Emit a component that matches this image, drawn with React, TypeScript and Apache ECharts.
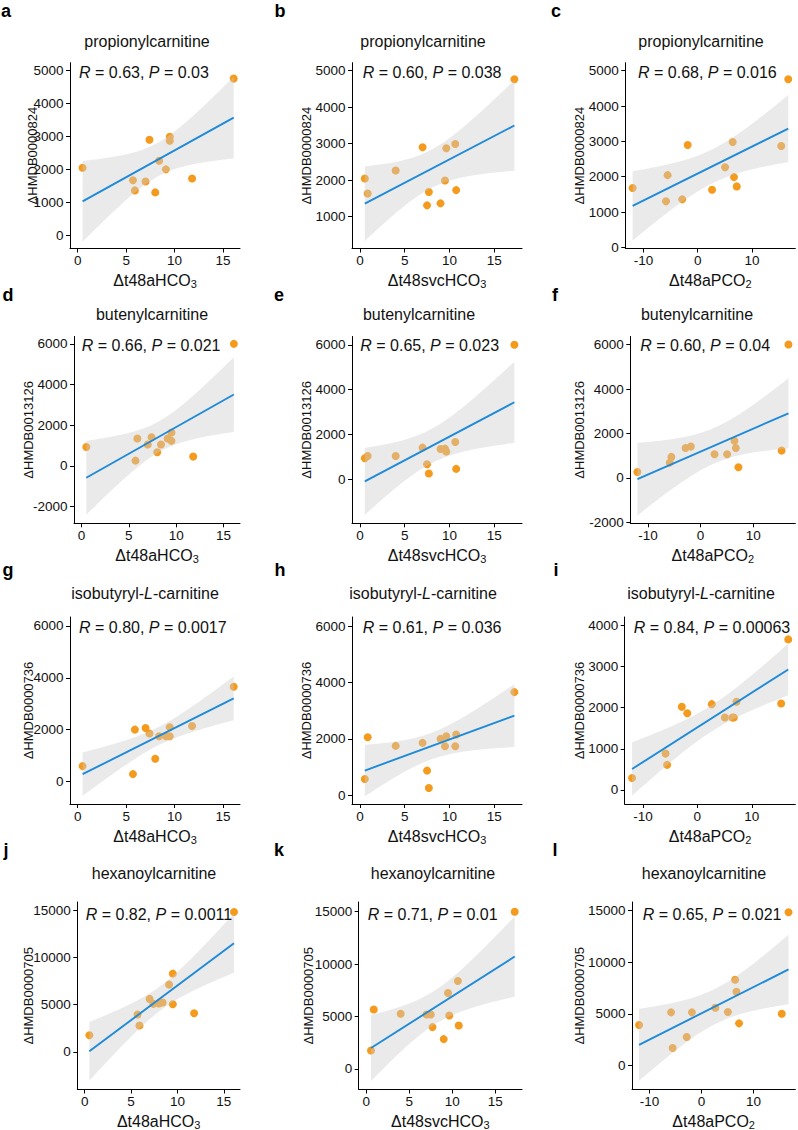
import React, { useEffect, useRef } from 'react';
import * as echarts from 'echarts';

// ---------------- data ----------------
const xAHCO3 = [0.5, 5.7, 5.9, 7.0, 7.4, 8.0, 8.4, 9.1, 9.5, 9.5, 11.8, 16.1];
const xSVCHCO3 = [0.55, 0.87, 4.0, 7.0, 7.5, 7.7, 9.0, 9.5, 9.65, 10.65, 10.75, 17.25];
const xAPCO2 = [-12.0, -5.85, -5.55, -2.85, -1.85, 2.65, 5.05, 6.45, 6.7, 7.2, 15.4, 16.7];

// propionylcarnitine (HMDB0000824)
const yPropA = [2050, 1670, 1360, 1630, 2900, 1300, 2260, 2000, 2990, 2870, 1720, 4760];
const yPropB = [2045, 1636, 2264, 2900, 1309, 1673, 1364, 1991, 2873, 2991, 1727, 4764];
const yPropC = [1679, 1304, 2045, 1360, 2899, 1632, 2270, 2983, 1989, 1726, 2871, 4756];
// butenylcarnitine (HMDB0013126)
const yButD = [934, 262, 1344, 1049, 1410, 672, 1049, 1344, 1639, 1230, 459, 6000];
const yButE = [946, 1049, 1049, 1419, 680, 266, 1360, 1374, 1241, 1670, 473, 6000];
const yButF = [270, 690, 946, 1351, 1411, 1066, 1066, 1667, 1351, 480, 1231, 6006];
// isobutyryl-L-carnitine (HMDB0000736)
const yIsoG = [590, 282, 2000, 2064, 1846, 872, 1744, 1744, 2090, 1744, 2141, 3654];
const yIsoH = [580, 2059, 1751, 1858, 876, 260, 2000, 1740, 2095, 1740, 2154, 3657];
const yIsoI = [292, 884, 609, 2020, 1866, 2085, 1761, 1761, 1761, 2142, 2101, 3659];
// hexanoylcarnitine (HMDB0000705)
const yHexJ = [1765, 3953, 2789, 5612, 5083, 5118, 5224, 7130, 8295, 5047, 4094, 14825];
const yHexK = [1752, 5669, 5255, 5191, 5191, 3981, 2834, 7229, 5096, 8376, 4140, 15000];
const yHexL = [3926, 5150, 1706, 2768, 5150, 5600, 5182, 8304, 7145, 4087, 5021, 14837];

const panelLetters = ['a', 'b', 'c', 'd', 'e', 'f', 'g', 'h', 'i', 'j', 'k', 'l'];
const rowTitles = ['propionylcarnitine', 'butenylcarnitine', 'isobutyryl-L-carnitine', 'hexanoylcarnitine'];
const rowYNames = ['ΔHMDB0000824', 'ΔHMDB0013126', 'ΔHMDB0000736', 'ΔHMDB0000705'];
const colXNames = [['Δt48aHCO', '3'], ['Δt48svcHCO', '3'], ['Δt48aPCO', '2']];
const colX = [xAHCO3, xSVCHCO3, xAPCO2];
const panelY = [yPropA, yPropB, yPropC, yButD, yButE, yButF, yIsoG, yIsoH, yIsoI, yHexJ, yHexK, yHexL];
const corrR = ['0.63', '0.60', '0.68', '0.66', '0.65', '0.60', '0.80', '0.61', '0.84', '0.82', '0.71', '0.65'];
const corrP = ['0.03', '0.038', '0.016', '0.021', '0.023', '0.04', '0.0017', '0.036', '0.00063', '0.0011', '0.01', '0.021'];

const xTicksHCO3 = [0, 5, 10, 15];
const xTicksPCO2 = [-10, 0, 10];
const colXTicks = [xTicksHCO3, xTicksHCO3, xTicksPCO2];
const yTicksProp = [0, 1000, 2000, 3000, 4000, 5000];
const yTicksPropB = [1000, 2000, 3000, 4000, 5000];
const yTicksBut = [-2000, 0, 2000, 4000, 6000];
const yTicksButE = [0, 2000, 4000, 6000];
const yTicksIso = [0, 2000, 4000, 6000];
const yTicksIsoI = [0, 1000, 2000, 3000, 4000];
const yTicksHex = [0, 5000, 10000, 15000];
const panelYTicks = [yTicksProp, yTicksPropB, yTicksProp, yTicksBut, yTicksButE, yTicksBut, yTicksIso, yTicksIso, yTicksIsoI, yTicksHex, yTicksHex, yTicksHex];

// axis ranges
const colXRange = [[-0.8, 16.75], [-0.88, 18.1], [-13.35, 18.0]];
const panelYRange = [
  [-406, 5243], [127, 5218], [-30, 5225],
  [-2820, 6361], [-1951, 6369], [-2042, 6366],
  [-872, 6346], [-308, 6320], [-341, 4203],
  [-3988, 15883], [-1975, 15924], [-2317, 15835],
];

// ---------------- layout ----------------
const FONT = '"Liberation Sans", Arial, Helvetica, sans-serif';
const ORANGE = '#F49A1C';
const BLUE = '#1E8AD8';
const RIBBON = 'rgba(205,205,205,0.42)';
const TXT = '#111';
const rowBox = [[62.7, 248.5], [336.5, 523.3], [617, 804], [902, 1089.5]];
const colRight = [240, 522, 795.3];
const panelLeft = [70, 352, 625.3, 74, 352, 630.3, 70, 352, 624.7, 77.3, 358.7, 632];
const yNameGap = [31, 39, 39, 38.7, 39, 44, 34.7, 39, 38.4, 42, 43.4, 45.7];
const letterPos = [[6, 11], [280, 11], [556, 11], [8, 295], [279, 295], [555, 295], [8, 570], [280, 570], [556, 570], [6, 850], [279, 850], [555, 850]];
const titlePos = [[147, 41], [423, 41], [701, 41], [152, 314], [419, 314], [697, 314], [145, 593], [423, 593], [701, 593], [154, 873], [433, 873], [704, 873]];
const corrX = [79, 362.7, 638, 81.7, 360.3, 640.3, 79, 362.7, 633.7, 85.7, 367.7, 642.7];
const rowCorrY = [72, 345, 627, 914];

const T975_DF10 = 2.228139;

function linearFit(xs: number[], ys: number[]) {
  const n = xs.length;
  const mx = xs.reduce((s, v) => s + v, 0) / n;
  const my = ys.reduce((s, v) => s + v, 0) / n;
  let sxx = 0, sxy = 0;
  for (let i = 0; i < n; i++) { sxx += (xs[i] - mx) ** 2; sxy += (xs[i] - mx) * (ys[i] - my); }
  const b = sxy / sxx;
  const a = my - b * mx;
  let sse = 0;
  for (let i = 0; i < n; i++) sse += (ys[i] - a - b * xs[i]) ** 2;
  const s = Math.sqrt(sse / (n - 2));
  const lo = Math.min(...xs), hi = Math.max(...xs);
  const band: number[][] = [];
  const steps = 80;
  for (let k = 0; k <= steps; k++) {
    const x = lo + ((hi - lo) * k) / steps;
    const yh = a + b * x;
    const se = s * Math.sqrt(1 / n + (x - mx) ** 2 / sxx);
    band.push([x, yh - T975_DF10 * se, yh + T975_DF10 * se]);
  }
  const line = [[lo, a + b * lo], [hi, a + b * hi]];
  return { band, line };
}

const plain = (v: number) => String(v);

function buildOption() {
  const grid: any[] = [];
  const xAxis: any[] = [];
  const yAxis: any[] = [];
  const series: any[] = [];
  const graphic: any[] = [];

  for (let p = 0; p < 12; p++) {
    const row = Math.floor(p / 3);
    const col = p % 3;
    const left = panelLeft[p];
    const top = rowBox[row][0];
    grid.push({ left, top, width: colRight[col] - left, height: rowBox[row][1] - top, outerBoundsMode: 'none', containLabel: false });
    const xt = colXTicks[col];
    xAxis.push({
      gridIndex: p, type: 'value', min: colXRange[col][0], max: colXRange[col][1],
      axisLine: { show: true, onZero: false, lineStyle: { color: '#000', width: 1 } },
      axisTick: { show: true, inside: false, length: 4, customValues: xt, lineStyle: { color: '#000', width: 1 } },
      axisLabel: { show: true, customValues: xt, formatter: plain, color: TXT, fontSize: 13.5, fontFamily: FONT, margin: 5 },
      splitLine: { show: false },
      name: `{n|${colXNames[col][0]}}{s|${colXNames[col][1]}}`,
      nameLocation: 'middle', nameGap: 23, nameMoveOverlap: false,
      nameTextStyle: {
        color: TXT, fontFamily: FONT, fontSize: 16,
        rich: {
          n: { fontSize: 16, fontFamily: FONT, color: TXT },
          s: { fontSize: 11, fontFamily: FONT, color: TXT, padding: [7, 0, 0, 0] },
        },
      },
    });
    const yt = panelYTicks[p];
    yAxis.push({
      gridIndex: p, type: 'value', min: panelYRange[p][0], max: panelYRange[p][1],
      axisLine: { show: true, onZero: false, lineStyle: { color: '#000', width: 1 } },
      axisTick: { show: true, inside: false, length: 4, customValues: yt, lineStyle: { color: '#000', width: 1 } },
      axisLabel: { show: true, customValues: yt, formatter: plain, color: TXT, fontSize: 13.5, fontFamily: FONT, margin: 6.5 },
      splitLine: { show: false },
      name: rowYNames[row], nameLocation: 'middle', nameGap: yNameGap[p], nameMoveOverlap: false,
      nameTextStyle: { color: TXT, fontFamily: FONT, fontSize: 13 },
    });

    const xs = colX[col];
    const ys = panelY[p];
    const { band, line } = linearFit(xs, ys);
    series.push({
      type: 'scatter', xAxisIndex: p, yAxisIndex: p, silent: true, z: 2,
      data: xs.map((x, i) => [x, ys[i]]), symbolSize: 8,
      itemStyle: { color: ORANGE, opacity: 1 },
    });
    series.push({
      type: 'custom', xAxisIndex: p, yAxisIndex: p, silent: true, z: 3,
      data: band,
      renderItem: (params: any, api: any) => {
        if (params.dataIndex !== 0) return null;
        const pts: number[][] = [];
        for (const b of band) pts.push(api.coord([b[0], b[2]]));
        for (let k = band.length - 1; k >= 0; k--) pts.push(api.coord([band[k][0], band[k][1]]));
        return { type: 'polygon', shape: { points: pts }, style: { fill: RIBBON } };
      },
    });
    series.push({
      type: 'line', xAxisIndex: p, yAxisIndex: p, silent: true, z: 4,
      data: line, showSymbol: false, symbol: 'none',
      lineStyle: { color: BLUE, width: 1.9 },
    });

    // panel letter
    graphic.push({
      type: 'text', x: letterPos[p][0], y: letterPos[p][1],
      style: { text: panelLetters[p], fill: '#000', fontSize: 18, fontWeight: 'bold', fontFamily: FONT, textAlign: 'center', textVerticalAlign: 'middle', align: 'center', verticalAlign: 'middle' },
    });
    // title
    const title = rowTitles[row];
    const titleText = title.includes('-L-')
      ? `{n|${title.split('-L-')[0]}-}{i|L}{n|-${title.split('-L-')[1]}}`
      : `{n|${title}}`;
    graphic.push({
      type: 'text', x: titlePos[p][0], y: titlePos[p][1],
      style: {
        text: titleText, fill: TXT, fontSize: 16, fontFamily: FONT,
        textAlign: 'center', textVerticalAlign: 'middle', align: 'center', verticalAlign: 'middle',
        rich: {
          n: { fontSize: 16, fontFamily: FONT, fill: TXT },
          i: { fontSize: 16, fontFamily: FONT, fill: TXT, fontStyle: 'italic' },
        },
      },
    });
    // correlation label
    graphic.push({
      type: 'text', x: corrX[p], y: rowCorrY[row],
      style: {
        text: `{i|R}{n| = ${corrR[p]}, }{i|P}{n| = ${corrP[p]}}`,
        fill: TXT, fontSize: 16, fontFamily: FONT,
        textAlign: 'left', textVerticalAlign: 'middle', align: 'left', verticalAlign: 'middle',
        rich: {
          n: { fontSize: 16, fontFamily: FONT, fill: TXT },
          i: { fontSize: 16, fontFamily: FONT, fill: TXT, fontStyle: 'italic' },
        },
      },
      z: 10,
    });
  }

  return {
    animation: false,
    backgroundColor: '#ffffff',
    textStyle: { fontFamily: FONT },
    grid, xAxis, yAxis, series, graphic,
  };
}

export default function App() {
  const ref = useRef<HTMLDivElement>(null);
  useEffect(() => {
    const chart = echarts.init(ref.current as HTMLDivElement, null, { renderer: 'svg' });
    chart.setOption(buildOption() as any);
    return () => chart.dispose();
  }, []);
  return (
    <div
      ref={ref}
      style={{ position: 'absolute', left: 0, top: 0, width: 798, height: 1130, background: '#fff' }}
    />
  );
}
